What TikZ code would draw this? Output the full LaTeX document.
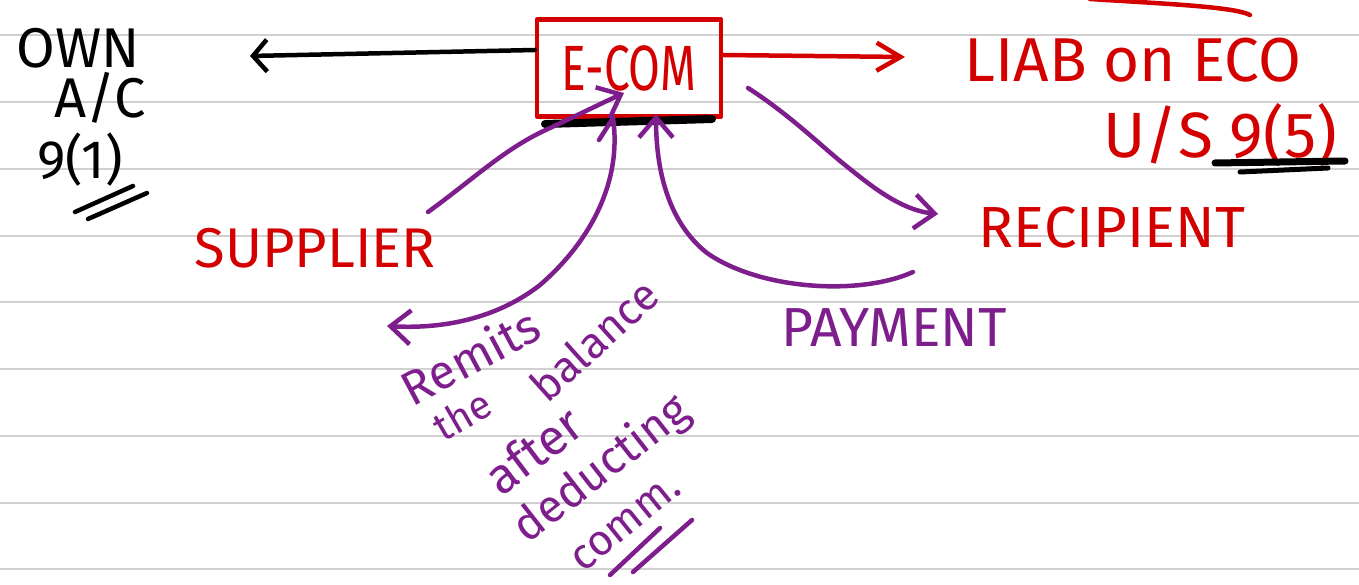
\documentclass[tikz,border=0pt]{standalone}
\usepackage{fontspec}
\setmainfont{Fira Sans}
\usepackage{graphicx}
\usetikzlibrary{arrows.meta}
\definecolor{penred}{RGB}{212,0,0}
\definecolor{penpurple}{RGB}{125,30,140}
\definecolor{ruling}{RGB}{208,208,208}

\begin{document}
\begin{tikzpicture}[x=1pt,y=-1pt,
  pen/.style={line width=4.5pt,line cap=round,line join=round},
  lbl/.style={inner sep=0pt},
  blacktip/.style={-{Straight Barb[length=14pt,width=32pt]}},
  redtip/.style={-{Straight Barb[length=24pt,width=28pt]}},
  purpletip/.style={-{Straight Barb[length=20pt,width=34pt]}},
  rule/.style={draw=ruling,line width=2pt}]

% page and ruled lines
\fill[white] (0,0) rectangle (1359,585);
\useasboundingbox (0,0) rectangle (1359,585);
\foreach \yy in {35,102,169,236,302,369,436,503,569}
  \draw[rule] (0,\yy) -- (1359,\yy);

% ---- left margin note ----
\node[lbl,font=\fontsize{56}{60}\selectfont] (own) at (78,48) {OWN};
\node[lbl,font=\fontsize{56}{60}\selectfont] (allc) at (100,98) {A/C};
\node[lbl,font=\fontsize{54}{60}\selectfont] (qone) at (80,160) {9(1)};
\draw[pen] (75,212) -- (133,186);
\draw[pen] (88,219) -- (147,193);

% ---- e-commerce operator ----
\node[lbl,draw=penred,pen,text=penred,minimum width=184pt,minimum height=97pt,
      font=\fontsize{64}{66}\selectfont] (ecom) at (629,68) {\scalebox{0.72}[1]{E-COM}};
\draw[line width=8pt,line cap=round] (545,124) -- (712,119);

% left: own account
\coordinate (ownend) at (250,56);
\draw[pen,blacktip] (ecom.west |- 0,50) -- (ownend);

% right: liability
\coordinate (liabend) at (905,57);
\draw[pen,penred,redtip] (ecom.east |- 0,55) -- (liabend);
\node[lbl,text=penred,font=\fontsize{62}{64}\selectfont] (liab) at (1133,60) {LIAB on ECO};
\node[lbl,text=penred,font=\fontsize{64}{66}\selectfont] (us) at (1220,135) {U/S 9(5)};
\draw[line width=7pt,line cap=round] (1215,163) -- (1345,161);
\draw[line width=5pt,line cap=round] (1240,172) -- (1328,168);
\draw[pen,penred] (1090,-1) .. controls (1170,4) and (1235,7) .. (1250,15);

% ---- parties ----
\node[lbl,text=penred,font=\fontsize{58}{60}\selectfont] (recipient) at (1112,228) {RECIPIENT};
\node[lbl,text=penred,font=\fontsize{56}{60}\selectfont] (supplier) at (315,248) {SUPPLIER};
\node[lbl,text=penpurple,font=\fontsize{55}{58}\selectfont] (payment) at (894,328) {PAYMENT};

% supplier supplies through the operator
\coordinate (supout) at (428,212);
\coordinate (ecomin) at (624,93);
\draw[pen,penpurple,purpletip] (supout) .. controls (475,178) and (505,148) .. (550,128)
  .. controls (580,114) and (600,104) .. (ecomin);

% operator remits the balance to the supplier
\coordinate (ecomout) at (613,118);
\coordinate (supin) at (387,326);
\draw[pen,penpurple,purpletip] (ecomout) .. controls (622,180) and (592,240) .. (540,285)
  .. controls (495,320) and (440,329) .. (supin);
\draw[pen,penpurple] (ecomout) -- (599,140);

% recipient pays the operator
\coordinate (payout) at (913,272);
\coordinate (payin) at (656,114);
\draw[pen,penpurple,purpletip] (payout) .. controls (860,296) and (760,290) .. (707,253)
  .. controls (668,222) and (656,170) .. (payin);

% operator delivers to the recipient
\coordinate (delout) at (748,88);
\coordinate (delin) at (938,214);
\draw[pen,penpurple,purpletip] (delout) .. controls (790,115) and (820,145) .. (845,165)
  .. controls (870,185) and (900,210) .. (delin);

% ---- note on the remittance ----
\begin{scope}[every node/.style={lbl,text=penpurple}]
  \node[rotate=28,font=\fontsize{48}{50}\selectfont] (remits) at (470,356) {Remits};
  \node[rotate=30,font=\fontsize{40}{42}\selectfont] (the) at (462,415) {the};
  \node[rotate=42,font=\fontsize{44}{48}\selectfont] (balance) at (594,340) {balance};
  \node[rotate=37,font=\fontsize{50}{54}\selectfont] (after) at (533,450) {after};
  \node[rotate=38,font=\fontsize{46}{50}\selectfont] (deducting) at (602,470) {deducting};
  \node[rotate=39,font=\fontsize{43}{48}\selectfont] (comm) at (626,524) {comm.};
\end{scope}
\draw[pen,penpurple] (610,575) -- (660,528);
\draw[pen,penpurple] (633,572) -- (692,520);

\end{tikzpicture}
\end{document}
